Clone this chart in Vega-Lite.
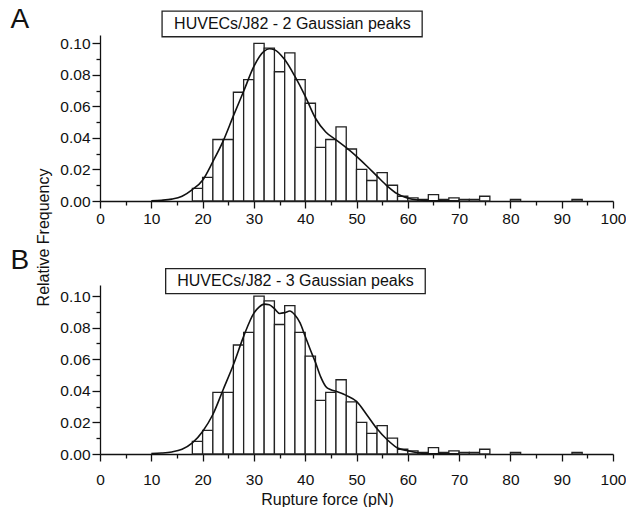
{
  "$schema": "https://vega.github.io/schema/vega-lite/v6.json",
  "padding": {"left": 10, "top": 5, "right": 0, "bottom": 0},
  "background": "white",
  "bounds": "flush",
  "spacing": 84,
  "datasets": {
    "hist": [
      {"bin_start": 18, "bin_end": 20, "freq": 0.008},
      {"bin_start": 20, "bin_end": 22, "freq": 0.015},
      {"bin_start": 22, "bin_end": 24, "freq": 0.039},
      {"bin_start": 24, "bin_end": 26, "freq": 0.039},
      {"bin_start": 26, "bin_end": 28, "freq": 0.069},
      {"bin_start": 28, "bin_end": 30, "freq": 0.077},
      {"bin_start": 30, "bin_end": 32, "freq": 0.100},
      {"bin_start": 32, "bin_end": 34, "freq": 0.097},
      {"bin_start": 34, "bin_end": 36, "freq": 0.082},
      {"bin_start": 36, "bin_end": 38, "freq": 0.094},
      {"bin_start": 38, "bin_end": 40, "freq": 0.077},
      {"bin_start": 40, "bin_end": 42, "freq": 0.062},
      {"bin_start": 42, "bin_end": 44, "freq": 0.034},
      {"bin_start": 44, "bin_end": 46, "freq": 0.039},
      {"bin_start": 46, "bin_end": 48, "freq": 0.047},
      {"bin_start": 48, "bin_end": 50, "freq": 0.033},
      {"bin_start": 50, "bin_end": 52, "freq": 0.020},
      {"bin_start": 52, "bin_end": 54, "freq": 0.013},
      {"bin_start": 54, "bin_end": 56, "freq": 0.018},
      {"bin_start": 56, "bin_end": 58, "freq": 0.010},
      {"bin_start": 58, "bin_end": 60, "freq": 0.003},
      {"bin_start": 60, "bin_end": 62, "freq": 0.002},
      {"bin_start": 62, "bin_end": 64, "freq": 0.001},
      {"bin_start": 64, "bin_end": 66, "freq": 0.004},
      {"bin_start": 66, "bin_end": 68, "freq": 0.001},
      {"bin_start": 68, "bin_end": 70, "freq": 0.002},
      {"bin_start": 70, "bin_end": 72, "freq": 0.001},
      {"bin_start": 72, "bin_end": 74, "freq": 0.001},
      {"bin_start": 74, "bin_end": 76, "freq": 0.003},
      {"bin_start": 80, "bin_end": 82, "freq": 0.001},
      {"bin_start": 92, "bin_end": 94, "freq": 0.001}
    ],
    "fit2": [
      {"force": 10, "freq": 0.0002},
      {"force": 12, "freq": 0.0005},
      {"force": 14, "freq": 0.0012},
      {"force": 16, "freq": 0.003},
      {"force": 18, "freq": 0.0072},
      {"force": 20, "freq": 0.0132},
      {"force": 22, "freq": 0.025},
      {"force": 24, "freq": 0.038},
      {"force": 26, "freq": 0.054},
      {"force": 28, "freq": 0.0696},
      {"force": 30, "freq": 0.0854},
      {"force": 32, "freq": 0.095},
      {"force": 33, "freq": 0.0966},
      {"force": 34, "freq": 0.096},
      {"force": 36, "freq": 0.0897},
      {"force": 38, "freq": 0.079},
      {"force": 40, "freq": 0.0665},
      {"force": 42, "freq": 0.0525},
      {"force": 44, "freq": 0.0438},
      {"force": 46, "freq": 0.0388},
      {"force": 48, "freq": 0.0338},
      {"force": 50, "freq": 0.0283},
      {"force": 52, "freq": 0.0222},
      {"force": 54, "freq": 0.0158},
      {"force": 56, "freq": 0.0095},
      {"force": 58, "freq": 0.0045},
      {"force": 60, "freq": 0.0018},
      {"force": 62, "freq": 0.0006},
      {"force": 64, "freq": 0.0002},
      {"force": 66, "freq": 0.0001},
      {"force": 70, "freq": 0.0}
    ],
    "fit3": [
      {"force": 10, "freq": 0.0003},
      {"force": 12, "freq": 0.0006},
      {"force": 14, "freq": 0.0013},
      {"force": 16, "freq": 0.003},
      {"force": 18, "freq": 0.007},
      {"force": 20, "freq": 0.0143},
      {"force": 22, "freq": 0.025},
      {"force": 24, "freq": 0.0407},
      {"force": 26, "freq": 0.0565},
      {"force": 28, "freq": 0.0745},
      {"force": 30, "freq": 0.0892},
      {"force": 31, "freq": 0.093},
      {"force": 32, "freq": 0.0949},
      {"force": 33, "freq": 0.0945},
      {"force": 34, "freq": 0.092},
      {"force": 35, "freq": 0.089},
      {"force": 36, "freq": 0.0895},
      {"force": 37, "freq": 0.0905},
      {"force": 38, "freq": 0.088},
      {"force": 39, "freq": 0.083},
      {"force": 40, "freq": 0.0745},
      {"force": 41, "freq": 0.066},
      {"force": 42, "freq": 0.058},
      {"force": 43, "freq": 0.049},
      {"force": 44, "freq": 0.0428},
      {"force": 45, "freq": 0.0407},
      {"force": 46, "freq": 0.0397},
      {"force": 48, "freq": 0.0371},
      {"force": 50, "freq": 0.0333},
      {"force": 52, "freq": 0.0249},
      {"force": 54, "freq": 0.016},
      {"force": 56, "freq": 0.009},
      {"force": 58, "freq": 0.0038},
      {"force": 60, "freq": 0.0021},
      {"force": 62, "freq": 0.0008},
      {"force": 64, "freq": 0.0002},
      {"force": 66, "freq": 0.0001},
      {"force": 70, "freq": 0.0}
    ]
  },
  "vconcat": [
    {
      "width": 513,
      "height": 166,
      "title": {"text": "A", "anchor": "start", "frame": "group", "dx": -89.5, "offset": -45.6, "fontSize": 28, "fontWeight": "normal", "baseline": "alphabetic", "font": "Liberation Sans", "color": "#111"},
      "resolve": {"axis": {"x": "independent", "y": "independent"}},
      "layer": [
        {
          "data": {"name": "hist"},
          "mark": {"type": "rect", "fill": "white", "stroke": "#222", "strokeWidth": 1.3},
          "encoding": {
            "x": {"field": "bin_start", "type": "quantitative", "scale": {"domain": [0, 100], "nice": false},
              "axis": {"orient": "bottom", "values": [0, 10, 20, 30, 40, 50, 60, 70, 80, 90, 100], "tickSize": 7, "labelPadding": 3, "title": null, "labelFlush": false, "labelOverlap": false}},
            "x2": {"field": "bin_end"},
            "y": {"field": "freq", "type": "quantitative", "scale": {"domain": [0, 0.1053], "nice": false},
              "axis": {"orient": "left", "values": [0, 0.02, 0.04, 0.06, 0.08, 0.1], "format": ".2f", "tickSize": 8, "labelPadding": 2, "labelOverlap": false,
                "title": "Relative Frequency", "titleX": -52, "titleY": 202, "titleAngle": 270, "titleAlign": "center", "titleBaseline": "alphabetic", "titleFontSize": 16, "titleFontWeight": "normal"}},
            "y2": {"datum": 0}
          }
        },
        {
          "data": {"name": "fit2"},
          "mark": {"type": "line", "color": "#111", "strokeWidth": 1.6, "interpolate": "monotone"},
          "encoding": {
            "x": {"field": "force", "type": "quantitative",
              "axis": {"orient": "bottom", "values": [5, 15, 25, 35, 45, 55, 65, 75, 85, 95], "tickSize": 4, "labels": false, "domain": false, "title": null}},
            "y": {"field": "freq", "type": "quantitative",
              "axis": {"orient": "left", "values": [0.01, 0.03, 0.05, 0.07, 0.09], "tickSize": 4, "labels": false, "domain": false, "title": null}}
          }
        },
        {
          "data": {"values": [{"label": "HUVECs/J82 - 2 Gaussian peaks"}]},
          "mark": {"type": "rect", "fill": "white", "stroke": "#222", "strokeWidth": 1.3},
          "encoding": {
            "x": {"datum": 12.1, "type": "quantitative", "axis": null},
            "x2": {"datum": 62.8},
            "y": {"datum": 0.1205, "type": "quantitative", "axis": null},
            "y2": {"datum": 0.1042}
          }
        },
        {
          "data": {"values": [{"label": "HUVECs/J82 - 2 Gaussian peaks"}]},
          "mark": {"type": "text", "fontSize": 16, "font": "Liberation Sans", "color": "#111", "baseline": "middle", "align": "center"},
          "encoding": {
            "x": {"datum": 37.5, "type": "quantitative", "axis": null},
            "y": {"datum": 0.1124, "type": "quantitative", "axis": null},
            "text": {"field": "label"}
          }
        }
      ]
    },
    {
      "width": 513,
      "height": 169,
      "title": {"text": "B", "anchor": "start", "frame": "group", "dx": -89.5, "offset": -29, "fontSize": 28, "fontWeight": "normal", "baseline": "alphabetic", "font": "Liberation Sans", "color": "#111"},
      "resolve": {"axis": {"x": "independent", "y": "independent"}},
      "layer": [
        {
          "data": {"name": "hist"},
          "mark": {"type": "rect", "fill": "white", "stroke": "#222", "strokeWidth": 1.3},
          "encoding": {
            "x": {"field": "bin_start", "type": "quantitative", "scale": {"domain": [0, 100], "nice": false},
              "axis": {"orient": "bottom", "values": [0, 10, 20, 30, 40, 50, 60, 70, 80, 90, 100], "tickSize": 7, "labelPadding": 11, "labelFlush": false, "labelOverlap": false,
                "title": "Rupture force (pN)", "titleX": 227, "titleY": 37, "titleAlign": "center", "titleBaseline": "top", "titleFontSize": 16, "titleFontWeight": "normal"}},
            "x2": {"field": "bin_end"},
            "y": {"field": "freq", "type": "quantitative", "scale": {"domain": [0, 0.107], "nice": false},
              "axis": {"orient": "left", "values": [0, 0.02, 0.04, 0.06, 0.08, 0.1], "format": ".2f", "tickSize": 8, "labelPadding": 2, "labelOverlap": false, "title": null}},
            "y2": {"datum": 0}
          }
        },
        {
          "data": {"name": "fit3"},
          "mark": {"type": "line", "color": "#111", "strokeWidth": 1.6, "interpolate": "monotone"},
          "encoding": {
            "x": {"field": "force", "type": "quantitative",
              "axis": {"orient": "bottom", "values": [5, 15, 25, 35, 45, 55, 65, 75, 85, 95], "tickSize": 4, "labels": false, "domain": false, "title": null}},
            "y": {"field": "freq", "type": "quantitative",
              "axis": {"orient": "left", "values": [0.01, 0.03, 0.05, 0.07, 0.09], "tickSize": 4, "labels": false, "domain": false, "title": null}}
          }
        },
        {
          "data": {"values": [{"label": "HUVECs/J82 - 3 Gaussian peaks"}]},
          "mark": {"type": "rect", "fill": "white", "stroke": "#222", "strokeWidth": 1.3},
          "encoding": {
            "x": {"datum": 12.8, "type": "quantitative", "axis": null},
            "x2": {"datum": 63.4},
            "y": {"datum": 0.1174, "type": "quantitative", "axis": null},
            "y2": {"datum": 0.1016}
          }
        },
        {
          "data": {"values": [{"label": "HUVECs/J82 - 3 Gaussian peaks"}]},
          "mark": {"type": "text", "fontSize": 16, "font": "Liberation Sans", "color": "#111", "baseline": "middle", "align": "center"},
          "encoding": {
            "x": {"datum": 38.1, "type": "quantitative", "axis": null},
            "y": {"datum": 0.1095, "type": "quantitative", "axis": null},
            "text": {"field": "label"}
          }
        }
      ]
    }
  ],
  "config": {
    "view": {"stroke": null},
    "font": "Liberation Sans",
    "axis": {
      "grid": false,
      "domainColor": "#111",
      "domainWidth": 1.3,
      "tickColor": "#111",
      "tickWidth": 1.3,
      "labelColor": "#111",
      "labelFont": "Liberation Sans",
      "labelFontSize": 15.5,
      "titleColor": "#111",
      "titleFont": "Liberation Sans"
    }
  }
}
